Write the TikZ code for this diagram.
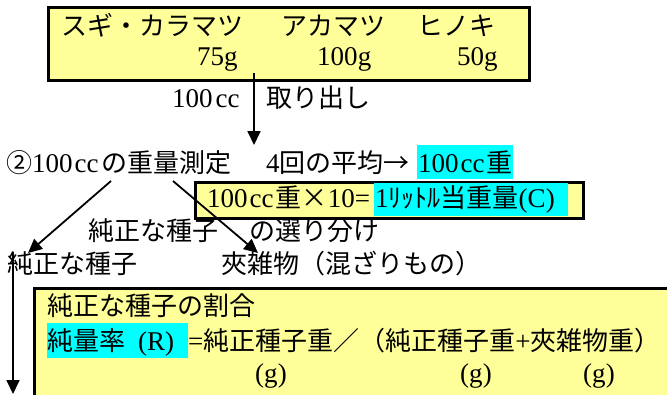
\documentclass[tikz,border=0pt]{standalone}
\usepackage{fontspec}
\setmainfont[Scale=1.04]{Liberation Serif}
\newfontfamily\jp{Noto Sans CJK JP}
\usetikzlibrary{arrows.meta}
\definecolor{boxyellow}{HTML}{FFFF99}
\definecolor{hlcyan}{HTML}{00FFFF}
\newcommand{\J}[1]{{\jp #1}}
\tikzset{
  txt/.style={anchor=base west, inner sep=0pt, font=\fontsize{26}{30}\selectfont},
  ctxt/.style={anchor=base, inner sep=0pt, font=\fontsize{26}{30}\selectfont},
  ybox/.style={draw=black, line width=3pt, fill=boxyellow, anchor=north west, inner sep=0pt},
  hl/.style={fill=hlcyan},
  arr/.style={line width=1.8pt, -{Triangle[length=14pt,width=13pt]}},
}
\begin{document}
\begin{tikzpicture}[x=1pt,y=-1pt]
\useasboundingbox (0,0) rectangle (667,394);
\clip (0,0) rectangle (667,394);
% boxes
\node[ybox, minimum width=481pt, minimum height=73pt] (top) at (47,6) {};
\node[ybox, minimum width=388pt, minimum height=36pt] (calc) at (194,181) {};
\node[ybox, minimum width=700pt, minimum height=150pt] (ratio) at (33,287) {};
% highlights
\fill[hl] (417,145) rectangle (513,179);
\fill[hl] (374,182.5) rectangle (568,215.5);
\fill[hl] (47,323) rectangle (188,358);
% top box text
\node[txt] (sp1) at (61,35) {\J{スギ・カラマツ}};
\node[txt] (sp2) at (281,35) {\J{アカマツ}};
\node[txt] (sp3) at (417,35) {\J{ヒノキ}};
\node[txt] (w1) at (197,65) {75g};
\node[txt] (w2) at (317,65) {100g};
\node[txt] (w3) at (457,65) {50g};
% extraction
\node[txt] (cc) at (172,107) {100\hspace{3pt}cc};
\node[txt] (take) at (266,107) {\J{取り出し}};
% measurement line
\node[txt] (meas) at (6,172) {\J{②}100\hspace{2pt}cc\hspace{3pt}\J{の重量測定}};
\node[txt] (avg) at (266,172) {4\J{回の平均→}};
\node[txt] (w100) at (418,172) {100\hspace{2pt}cc\hspace{2pt}\J{重}};
\node[txt] (calc1) at (207,207) {100\hspace{2pt}cc\hspace{2pt}\J{重×}10=};
\node[txt] (calc2) at (375,207) {1\J{ﾘｯﾄﾙ当重量}(C)};
% sorting
\node[txt] (sort1) at (88,240) {\J{純正な種子}};
\node[txt] (sort2) at (249,240) {\J{の選り分け}};
\node[txt] (pure) at (7,273) {\J{純正な種子}};
\node[txt] (imp) at (221,273) {\J{夾雑物（混ざりもの）}};
% ratio box
\node[txt] (r1) at (47,315) {\J{純正な種子の割合}};
\node[txt] (r2) at (47,350) {\J{純量率}\hspace{13pt}(R)};
\node[txt] (r3) at (188,350) {=\J{純正種子重／（純正種子重}+\J{夾雑物重）}};
\node[ctxt] (g1) at (271,382) {(g)};
\node[ctxt] (g2) at (476,382) {(g)};
\node[ctxt] (g3) at (599,382) {(g)};
% arrows
\coordinate (a1s) at (254,73);
\coordinate (a1e) at (254,145);
\coordinate (a2s) at (111,181);
\coordinate (a2e) at (28,253);
\coordinate (a3s) at (173,181);
\coordinate (a3e) at (258,253);
\coordinate (a4s) at (13,252);
\coordinate (a4e) at (13,394);
\draw[arr] (a1s) -- (a1e);
\draw[arr] (a2s) -- (a2e);
\draw[arr] (a3s) -- (a3e);
\draw[arr] (a4s) -- (a4e);
\end{tikzpicture}
\end{document}
